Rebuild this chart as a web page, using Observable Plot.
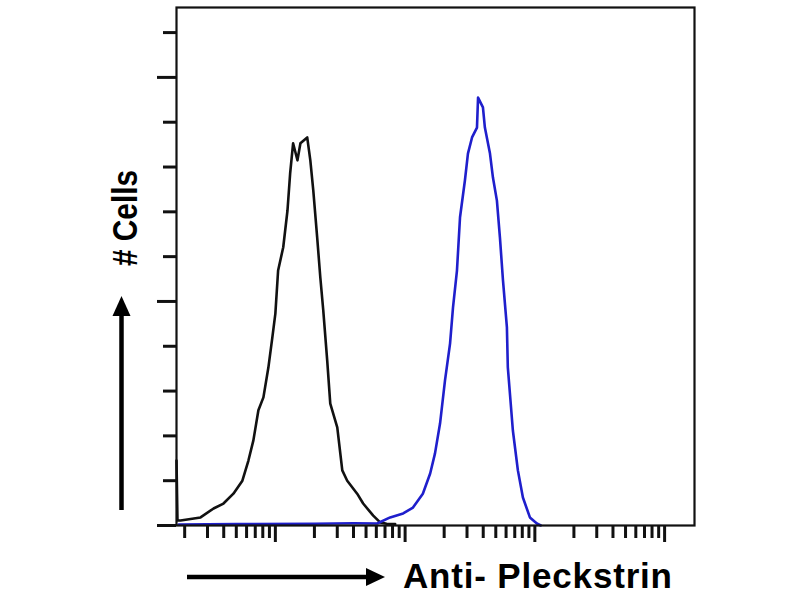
<!DOCTYPE html>
<html>
<head>
<meta charset="utf-8">
<script src="https://cdn.jsdelivr.net/npm/d3@7"></script>
<script src="https://cdn.jsdelivr.net/npm/@observablehq/plot@0.6"></script>
<style>
  html, body { margin: 0; padding: 0; background: #fff; }
  #chart svg { display: block; }
</style>
</head>
<body>
<div id="chart"></div>
<script>
// Isotype control (black) histogram: fluorescence intensity vs cell count
const controlIntensity = [1.73, 1.76, 1.86, 2.65, 3.34, 3.98, 4.75, 5.57, 6.20, 6.77, 7.40, 8.09, 8.84, 9.48, 10.0, 10.5, 11.5, 12.4, 13.0, 13.7, 14.8, 15.6, 17.6, 18.6, 19.6, 21.0, 22.2, 23.4, 25.1, 26.5, 30.0, 32.8, 35.8, 42.7, 47.5, 56.8, 64.2, 72.0, 83.8];
const controlCount     = [14.5, 1.1, 1.1, 1.8, 3.8, 4.9, 7.1, 10.0, 14.5, 19.0, 25.7, 28.6, 35.3, 42.0, 47.3, 56.9, 62.1, 70.3, 78.6, 85.3, 81.5, 85.3, 86.6, 81.5, 74.8, 64.3, 55.4, 48.0, 36.8, 27.2, 21.9, 12.3, 10.0, 7.1, 4.9, 2.2, 0.7, 0.4, 0.3];

// Anti-Pleckstrin stained (blue) histogram
const stainedIntensity = [1.8, 5, 20, 40, 60.9, 76.7, 96.6, 115, 137, 156, 170, 186, 203, 222, 234, 251, 265, 289, 305, 328, 358, 365, 398, 412, 451, 475, 510, 538, 568, 609, 619, 677, 740, 809, 916, 1036, 1112];
const stainedCount     = [0.2, 0.3, 0.4, 0.5, 0.45, 1.8, 2.7, 4.0, 7.1, 11.6, 16.1, 22.8, 32.4, 40.6, 48.7, 56.9, 68.8, 77.0, 83.0, 86.6, 88.8, 95.5, 93.3, 88.8, 83.0, 77.7, 72.5, 64.3, 54.7, 44.2, 35.3, 21.2, 12.3, 6.25, 1.8, 0.45, 0.0];

// Tick positions
const xMinorTicks = [2,3,4,5,6,7,8,9,20,30,40,50,60,70,80,90,200,300,400,500,600,700,800,900,2000,3000,4000,5000,6000,7000,8000,9000];
const xMajorTicks = [10, 100, 1000, 10000];
const yMinorTicks = [10,20,30,40,60,70,80,90,110];
const yMajorTicks = [0, 50, 100];

const xLabel = "Anti- Pleckstrin";
const yLabel = "# Cells";

const control = controlIntensity.map((x, i) => ({x, y: controlCount[i]}));
const stained = stainedIntensity.map((x, i) => ({x, y: stainedCount[i]}));

const chart = Plot.plot({
  width: 800,
  height: 600,
  marginLeft: 176,
  marginRight: 106,
  marginTop: 7,
  marginBottom: 75,
  style: {background: "#fff", overflow: "visible"},
  x: {type: "log", domain: [1.73, 17000]},
  y: {domain: [0, 115.6]},
  marks: [
    Plot.axisX(xMinorTicks, {tickSize: 13, tickFormat: () => "", strokeWidth: 3, stroke: "#111", label: null}),
    Plot.axisX(xMajorTicks, {tickSize: 17, tickFormat: () => "", strokeWidth: 3, stroke: "#111", label: null}),
    Plot.axisY(yMinorTicks, {tickSize: 13, tickFormat: () => "", strokeWidth: 3, stroke: "#111", label: null}),
    Plot.axisY(yMajorTicks, {tickSize: 19, tickFormat: () => "", strokeWidth: 3, stroke: "#111", label: null}),
    Plot.line(control, {x: "x", y: "y", stroke: "#111", strokeWidth: 2.6}),
    Plot.line(stained, {x: "x", y: "y", stroke: "#1f1fcc", strokeWidth: 2.6}),
    Plot.frame({stroke: "#111", strokeWidth: 2.2})
  ]
});

document.getElementById("chart").appendChild(chart);

const svg = d3.select(chart);
// x-axis arrow and label
svg.append("line").attr("x1", 187).attr("y1", 577).attr("x2", 370).attr("y2", 577)
  .attr("stroke", "#000").attr("stroke-width", 4.5);
svg.append("path").attr("d", "M366,568 L385,577 L366,586 Z").attr("fill", "#000");
svg.append("text").attr("x", 403).attr("y", 588)
  .attr("text-anchor", "start")
  .attr("font-family", "Liberation Sans, Arial, sans-serif").attr("font-weight", "bold")
  .attr("font-size", 35).attr("textLength", 269).attr("fill", "#000").text(xLabel);

// y-axis arrow and label
svg.append("line").attr("x1", 121.5).attr("y1", 510).attr("x2", 121.5).attr("y2", 312)
  .attr("stroke", "#000").attr("stroke-width", 4.5);
svg.append("path").attr("d", "M112.5,316 L121.5,296 L130.5,316 Z").attr("fill", "#000");
svg.append("text").attr("transform", "translate(137,266) rotate(-90)")
  .attr("text-anchor", "start")
  .attr("font-family", "Liberation Sans, Arial, sans-serif").attr("font-weight", "bold")
  .attr("font-size", 35).attr("textLength", 96).attr("lengthAdjust", "spacingAndGlyphs")
  .attr("fill", "#000").text(yLabel);
</script>
</body>
</html>
